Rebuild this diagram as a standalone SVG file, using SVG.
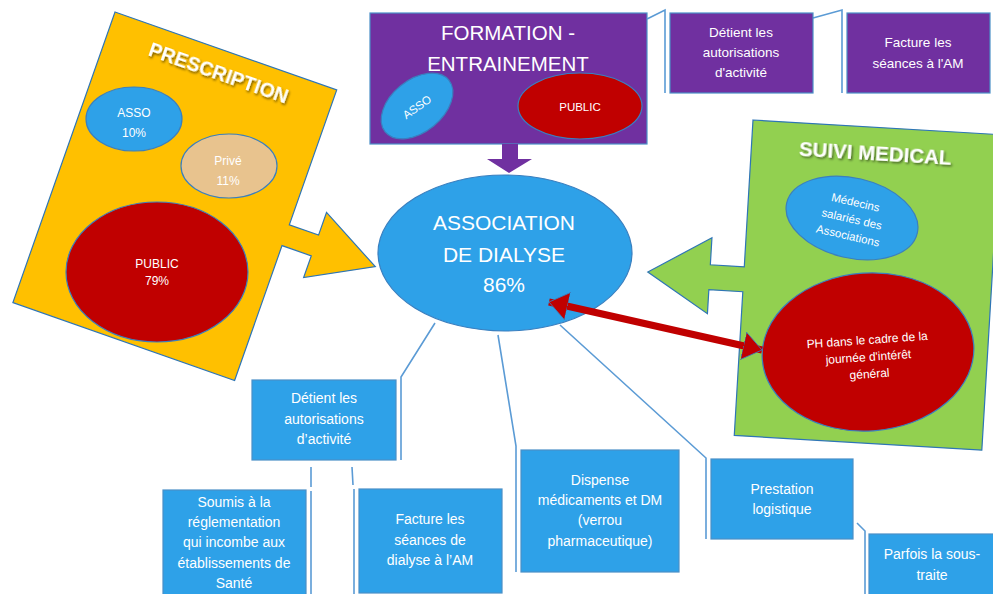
<svg xmlns="http://www.w3.org/2000/svg" width="993" height="594" viewBox="0 0 993 594">
<defs>
<style>
text{font-family:"Liberation Sans",Arial,sans-serif;fill:#fff;text-anchor:middle}
.box{fill:#2ea1e8;stroke:#4a8fc7;stroke-width:1.2}
.pbox{fill:#7030a0;stroke:#4a8fc7;stroke-width:1.2}
.ell{fill:#2ea1e8;stroke:#3a7fbf;stroke-width:1.2}
.red{fill:#c00000;stroke:#3a7fbf;stroke-width:1.2}
.con{fill:none;stroke:#5b9bd5;stroke-width:1.6}
.t14{font-size:14px}
.t13{font-size:13.5px}
.t12{font-size:12px}
.ttl{font-size:19.5px;font-weight:bold;filter:url(#sh)}
</style>
<filter id="sh" x="-10%" y="-30%" width="120%" height="170%">
<feDropShadow dx="1.5" dy="1.5" stdDeviation="1" flood-color="#000" flood-opacity="0.55"/>
</filter>
<marker id="rh" markerUnits="userSpaceOnUse" markerWidth="20" markerHeight="30" viewBox="0 0 20 30" refX="19" refY="15" orient="auto-start-reverse">
<path d="M0,1 L19,15 L0,29 Z" fill="#c00000" stroke="#3a7fbf" stroke-width="0.8"/>
</marker>
</defs>
<rect width="993" height="594" fill="#fff"/>

<g id="prescription">
<g transform="translate(115,12) rotate(19.36)">
<path d="M0,0 H235 V143 H266 V119 L330,154 L266,188 V165 H235 V308 H0 Z" fill="#ffc000" stroke="#2e75b6" stroke-width="1.2"/>
<text x="118" y="30" class="ttl">PRESCRIPTION</text>
</g>
<g id="presc-asso"><ellipse cx="134" cy="119" rx="48" ry="32" class="ell"/>
<text x="134" y="117" class="t12">ASSO</text><text x="134" y="137" class="t12">10%</text></g>
<g id="presc-prive"><ellipse cx="229" cy="166" rx="48" ry="32" fill="#e8c38e" stroke="#3a7fbf" stroke-width="1.2"/>
<text x="228" y="165" class="t12">Privé</text><text x="228" y="185" class="t12">11%</text></g>
<g id="presc-public"><ellipse cx="157" cy="272" rx="91" ry="70" class="red"/>
<text x="157" y="268" class="t12">PUBLIC</text><text x="157" y="285" class="t12">79%</text></g>
</g>

<g id="formation">
<rect x="370" y="13" width="277" height="131" fill="#7030a0" stroke="#4a8fc7" stroke-width="1.2"/>
<path d="M502,144 H518 V159 H532 L509,173 L487,159 H502 Z" fill="#7030a0"/>
<text x="508" y="40" style="font-size:20.5px">FORMATION -</text>
<text x="508" y="71" style="font-size:20.5px">ENTRAINEMENT</text>
<g id="form-asso"><ellipse cx="0" cy="0" rx="41" ry="26" class="ell" transform="translate(417,106) rotate(-39)"/>
<text x="0" y="4" style="font-size:11.5px" transform="translate(417,107) rotate(-35)">ASSO</text></g>
<g id="form-public"><ellipse cx="580" cy="106" rx="62" ry="33" class="red"/>
<text x="580" y="111" style="font-size:11.5px">PUBLIC</text></g>
</g>

<g id="suivi">
<g transform="translate(753,120) rotate(3.4)">
<path d="M0,0 H248 V316 H0 V172 H-34 V196 L-96,158 L-34,120 V147 H0 Z" fill="#92d050" stroke="#2e75b6" stroke-width="1.2"/>
<text x="124" y="33" class="ttl" style="font-size:20.5px">SUIVI MEDICAL</text>
</g>
<g id="suivi-medecins" transform="rotate(13,852,218)">
<ellipse cx="852" cy="218" rx="67" ry="40" class="ell"/>
<text x="852" y="206" style="font-size:11.5px">Médecins</text>
<text x="852" y="223" style="font-size:11.5px">salariés des</text>
<text x="852" y="240" style="font-size:11.5px">Associations</text>
</g>
<g id="suivi-ph" transform="rotate(-4,868,352)">
<ellipse cx="868" cy="352" rx="106" ry="79" class="red"/>
<text x="868" y="344" class="t12">PH dans le cadre de la</text>
<text x="868" y="361" class="t12">journée d'intérêt</text>
<text x="868" y="378" class="t12">général</text>
</g>
</g>

<g id="association">
<ellipse cx="505" cy="253" rx="127" ry="78" class="ell"/>
<text x="504" y="230" style="font-size:21px">ASSOCIATION</text>
<text x="504" y="262" style="font-size:21px">DE DIALYSE</text>
<text x="504" y="292" style="font-size:21px">86%</text>
</g>

<g id="connectors">
<path class="con" d="M647,19 L665,10 V93"/>
<path class="con" d="M813,18 L842,10 V93"/>
<path class="con" d="M435,323 L401,377 V460"/>
<path class="con" d="M498,335 L516,446 V572"/>
<path class="con" d="M560,325 L706,458 V539"/>
<path class="con" d="M857,523 L865,531 V594"/>
<path class="con" d="M311,467 V487 M311,491 V594"/>
<path class="con" d="M352,467 L353,485 M354,489 V594"/>
<line x1="549" y1="302" x2="762" y2="350" stroke="#c00000" stroke-width="7" marker-start="url(#rh)" marker-end="url(#rh)"/>
</g>

<g id="top-detient"><rect x="670" y="13" width="143" height="80" class="pbox"/>
<text x="741" y="37" class="t13">Détient les</text><text x="741" y="57" class="t13">autorisations</text><text x="741" y="77" class="t13">d'activité</text></g>
<g id="top-facture"><rect x="847" y="13" width="143" height="80" class="pbox"/>
<text x="918" y="47" class="t13">Facture les</text><text x="918" y="68" class="t13">séances à l'AM</text></g>

<g id="detient"><rect x="252" y="380" width="144" height="80" class="box"/>
<text x="324" y="403" class="t14">Détient les</text><text x="324" y="424" class="t14">autorisations</text><text x="324" y="444" class="t14">d’activité</text></g>
<g id="soumis"><rect x="163" y="490" width="143" height="106" class="box"/>
<text x="234" y="507" class="t14">Soumis à la</text><text x="234" y="527" class="t14">réglementation</text><text x="234" y="547" class="t14">qui incombe aux</text><text x="234" y="568" class="t14">établissements de</text><text x="234" y="588" class="t14">Santé</text></g>
<g id="facture"><rect x="359" y="489" width="143" height="104" class="box"/>
<text x="430" y="524" class="t14">Facture les</text><text x="430" y="545" class="t14">séances de</text><text x="430" y="565" class="t14">dialyse à l’AM</text></g>
<g id="dispense"><rect x="521" y="450" width="158" height="122" class="box"/>
<text x="600" y="485" class="t14">Dispense</text><text x="600" y="505" class="t14">médicaments et DM</text><text x="600" y="525" class="t14">(verrou</text><text x="600" y="546" class="t14">pharmaceutique)</text></g>
<g id="prestation"><rect x="711" y="459" width="142" height="80" class="box"/>
<text x="782" y="494" class="t14">Prestation</text><text x="782" y="514" class="t14">logistique</text></g>
<g id="parfois"><rect x="869" y="534" width="128" height="64" class="box"/>
<text x="932" y="559" class="t14">Parfois la sous-</text><text x="932" y="580" class="t14">traite</text></g>
</svg>
